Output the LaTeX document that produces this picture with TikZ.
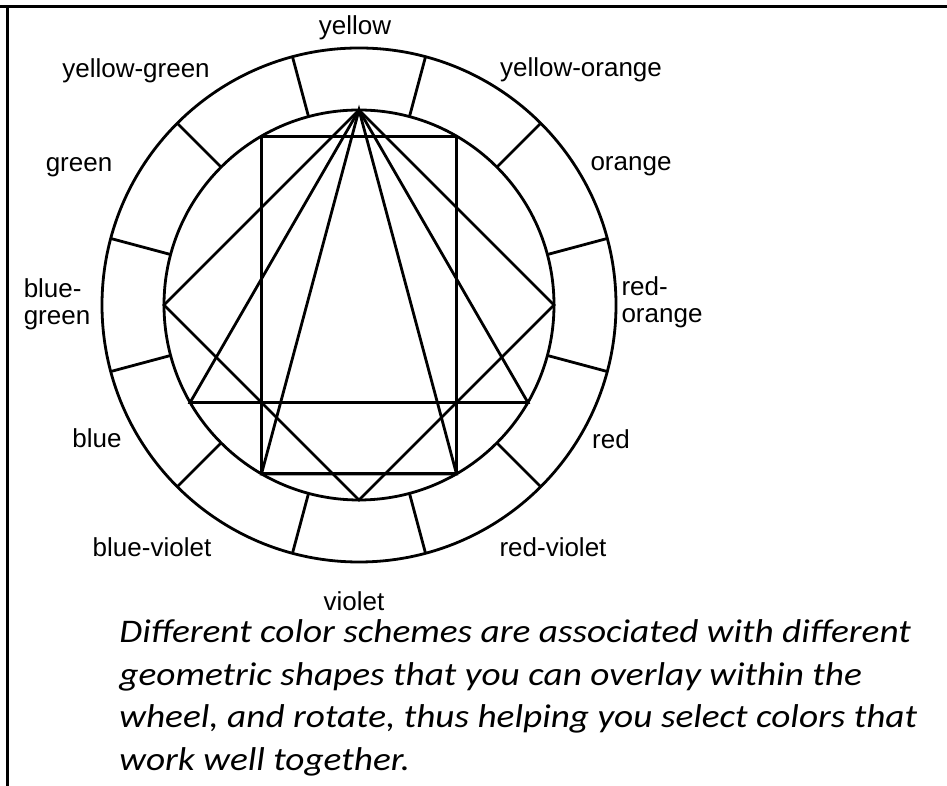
\documentclass[tikz,border=0pt]{standalone}
\usepackage{fontspec}
\setmainfont{Liberation Sans}
\newfontfamily\capfont{Carlito}
\newcommand{\capline}[1]{\scalebox{1.13}[1]{#1}}

\begin{document}
\begin{tikzpicture}[x=0.5pt, y=0.5pt, line width=1.4pt,
  hue/.style={font=\fontsize{13}{13.5}\selectfont, align=left, inner sep=0pt},
  caption/.style={font=\capfont\itshape\fontsize{16.5}{21}\selectfont, anchor=base west, inner sep=0pt}]
  \useasboundingbox (0,0) rectangle (947,786);
  \draw[line width=1.5pt] (0,779) -- (947,779) (7,779) -- (7,0);

  \begin{scope}[shift={(359,481)}]
    \draw (0,0) circle (257) (0,0) circle (195);
    \foreach \a in {15,45,...,345}
      \draw (\a:195) -- (\a:257);
    \foreach \n/\a in {yel/90, yo/60, ora/30, ro/0, red/-30, rv/-60,
                       vio/-90, bv/-120, blu/-150, bg/180, gre/150, yg/120}
      \coordinate (\n) at (\a:195);

    % square, triangle, split complement, rectangle
    \draw (yel) -- (bg) -- (vio) -- (ro) -- cycle;
    \draw (yel) -- (blu) -- (red) -- cycle;
    \draw (yel) -- (bv) -- (rv) -- cycle;
    \draw (yg) -- (yo) -- (rv) -- (bv) -- cycle;
  \end{scope}

  \node[hue] (lyel) at (355,758) {yellow};
  \node[hue] (lyo) at (581,716) {yellow-orange};
  \node[hue] (lora) at (631,620) {orange};
  \node[hue] (lro) at (662,484) {red-\\orange};
  \node[hue] (lred) at (611,347) {red};
  \node[hue] (lrv) at (553,239) {red-violet};
  \node[hue] (lvio) at (354,185) {violet};
  \node[hue] (lbv) at (152,239) {blue-violet};
  \node[hue] (lblu) at (97,348) {blue};
  \node[hue] (lbg) at (57,482) {blue-\\green};
  \node[hue] (lgre) at (79,619) {green};
  \node[hue] (lyg) at (136,715) {yellow-green};

  \node[caption] (cap1) at (118,143) {\capline{Different color schemes are associated with different}};
  \node[caption] (cap2) at (118,100.5) {\capline{geometric shapes that you can overlay within the}};
  \node[caption] (cap3) at (118,58) {\capline{wheel, and rotate, thus helping you select colors that}};
  \node[caption] (cap4) at (118,15.5) {\capline{work well together.}};
\end{tikzpicture}
\end{document}
